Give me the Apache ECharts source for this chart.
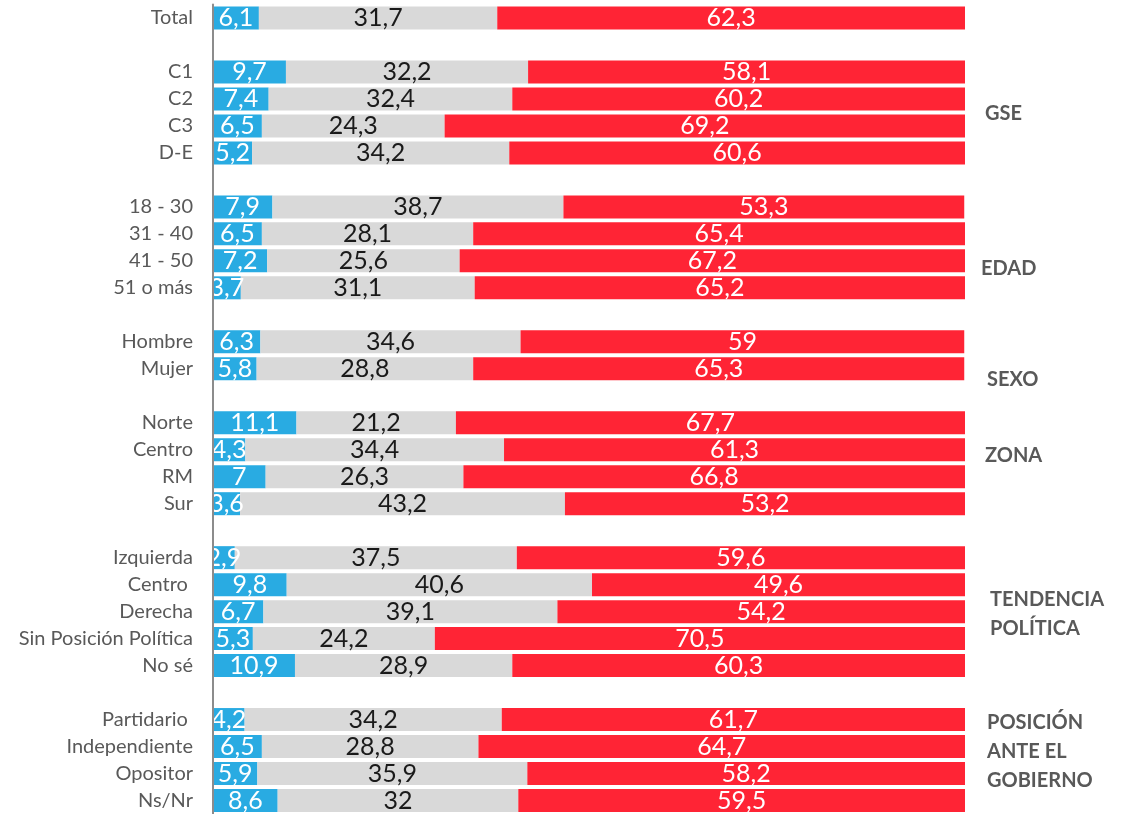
<!DOCTYPE html>
<html>
<head>
<meta charset="utf-8">
<script src="https://cdn.jsdelivr.net/npm/echarts@6/dist/echarts.min.js"></script>
<style>
  html, body { margin: 0; padding: 0; background: #fff; }
  #chart { width: 1129px; height: 814px; }
</style>
</head>
<body>
<div id="chart"></div>
<script>
// Rows of the chart; empty strings are spacer rows between groups.
const categories = [
  'Total', '',
  'C1', 'C2', 'C3', 'D-E', '',
  '18 - 30', '31 - 40', '41 - 50', '51 o más', '',
  'Hombre', 'Mujer', '',
  'Norte', 'Centro', 'RM', 'Sur', '',
  'Izquierda', 'Centro ', 'Derecha', 'Sin Posición Política', 'No sé', '',
  'Partidario ', 'Independiente', 'Opositor', 'Ns/Nr'
];

// Percentages per row (null on spacer rows).
const blue = [
  6.1, null,
  9.7, 7.4, 6.5, 5.2, null,
  7.9, 6.5, 7.2, 3.7, null,
  6.3, 5.8, null,
  11.1, 4.3, 7, 3.6, null,
  2.9, 9.8, 6.7, 5.3, 10.9, null,
  4.2, 6.5, 5.9, 8.6
];
const grey = [
  31.7, null,
  32.2, 32.4, 24.3, 34.2, null,
  38.7, 28.1, 25.6, 31.1, null,
  34.6, 28.8, null,
  21.2, 34.4, 26.3, 43.2, null,
  37.5, 40.6, 39.1, 24.2, 28.9, null,
  34.2, 28.8, 35.9, 32
];
const red = [
  62.3, null,
  58.1, 60.2, 69.2, 60.6, null,
  53.3, 65.4, 67.2, 65.2, null,
  59, 65.3, null,
  67.7, 61.3, 66.8, 53.2, null,
  59.6, 49.6, 54.2, 70.5, 60.3, null,
  61.7, 64.7, 58.2, 59.5
];

// Group captions shown to the right of the bars (anchor = left edge, vertical middle).
const groups = [
  { text: 'GSE', x: 985, y: 114 },
  { text: 'EDAD', x: 981, y: 269 },
  { text: 'SEXO', x: 987, y: 380 },
  { text: 'ZONA', x: 985, y: 456 },
  { text: 'TENDENCIA\nPOLÍTICA', x: 990, y: 614 },
  { text: 'POSICIÓN\nANTE EL\nGOBIERNO', x: 987, y: 752 }
];

const FONT = 'Lato, "Open Sans", sans-serif';
const fmt = p => String(p.value).replace('.', ',');

function makeSeries(name, data, color, labelColor) {
  return {
    name: name,
    type: 'bar',
    stack: 'total',
    data: data,
    barWidth: 23,
    itemStyle: { color: color },
    label: {
      show: true,
      position: 'inside',
      formatter: fmt,
      color: labelColor,
      fontFamily: FONT,
      fontSize: 25
    },
    emphasis: { disabled: true }
  };
}

const chart = echarts.init(document.getElementById('chart'), null, { renderer: 'canvas' });
chart.setOption({
  animation: false,
  grid: { left: 213, right: 164, top: 4.5, height: 810, containLabel: false },
  xAxis: {
    type: 'value',
    min: 0,
    max: 100,
    show: false
  },
  yAxis: {
    type: 'category',
    data: categories,
    inverse: true,
    z: 10,
    axisLine: { show: true, lineStyle: { color: '#8c8c8c', width: 2 } },
    axisTick: { show: false },
    axisLabel: {
      color: '#595959',
      fontFamily: FONT,
      fontSize: 20,
      margin: 20
    }
  },
  series: [
    makeSeries('blue', blue, '#29ABE2', '#ffffff'),
    makeSeries('grey', grey, '#D9D9D9', '#1a1a1a'),
    makeSeries('red', red, '#FF2435', '#ffffff')
  ],
  graphic: groups.map(g => ({
    type: 'text',
    x: g.x,
    y: g.y,
    style: {
      text: g.text,
      fill: '#595959',
      font: 'bold 20px ' + FONT,
      lineHeight: 29,
      align: 'left',
      verticalAlign: 'middle'
    }
  }))
});
</script>
</body>
</html>
